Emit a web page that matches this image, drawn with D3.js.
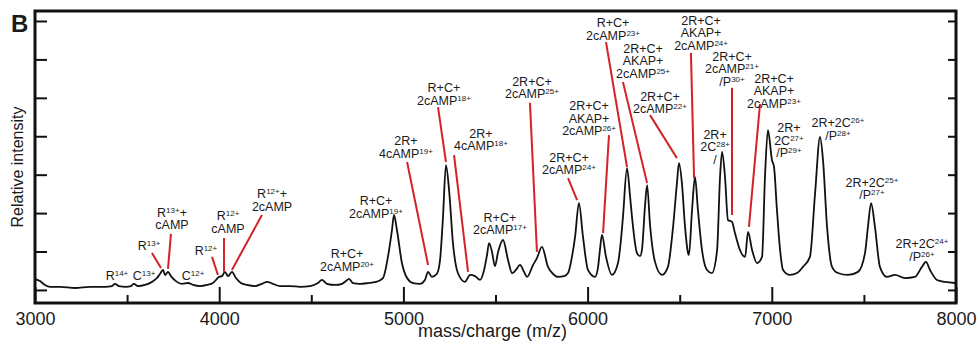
<!DOCTYPE html>
<html>
<head>
<meta charset="utf-8">
<script src="https://cdn.jsdelivr.net/npm/d3@7"></script>
<style>
  html, body { margin: 0; padding: 0; background: #fff; }
  svg { display: block; }
  text { font-family: "Liberation Sans", Arial, Helvetica, sans-serif; fill: #1a1a1a; }
</style>
</head>
<body>
<div id="chart"></div>
<script>
// trace: m/z and relative intensity (1 = one y tick)
const mz = [
  3000, 3027, 3054, 3081, 3136, 3217, 3299, 3380, 3418, 3434,
  3456, 3494, 3521, 3537, 3559, 3597, 3635, 3662, 3679, 3695,
  3706, 3722, 3738, 3765, 3798, 3831, 3858, 3896, 3934, 3966,
  3988, 3999, 4015, 4031, 4048, 4069, 4091, 4118, 4151, 4194,
  4232, 4260, 4292, 4330, 4384, 4439, 4493, 4536, 4558, 4585,
  4629, 4667, 4688, 4705, 4726, 4764, 4808, 4851, 4889, 4916,
  4938, 4949, 4965, 4992, 5020, 5052, 5090, 5117, 5134, 5155,
  5182, 5199, 5215, 5231, 5248, 5269, 5296, 5334, 5362, 5389,
  5416, 5438, 5454, 5465, 5481, 5497, 5514, 5541, 5568, 5590,
  5611, 5633, 5655, 5671, 5704, 5725, 5752, 5785, 5812, 5839,
  5872, 5894, 5915, 5932, 5953, 5975, 6002, 6040, 6056, 6067,
  6078, 6100, 6132, 6165, 6181, 6192, 6214, 6230, 6241, 6268,
  6285, 6295, 6312, 6323, 6339, 6366, 6404, 6436, 6464, 6485,
  6496, 6512, 6529, 6545, 6550, 6567, 6583, 6599, 6621, 6648,
  6675, 6703, 6719, 6730, 6746, 6762, 6784, 6800, 6827, 6855,
  6871, 6893, 6920, 6947, 6963, 6979, 7001, 7012, 7028, 7045,
  7061, 7099, 7137, 7169, 7207, 7235, 7262, 7278, 7300, 7327,
  7359, 7414, 7468, 7506, 7522, 7539, 7560, 7587, 7625, 7669,
  7723, 7777, 7815, 7837, 7859, 7897, 7940, 7995
];
const intensity = [
  0.29, 0.23, 0.13, 0.08, 0.08, 0.05, 0.08, 0.08, 0.10, 0.16,
  0.10, 0.08, 0.10, 0.16, 0.10, 0.13, 0.21, 0.31, 0.42, 0.52,
  0.39, 0.47, 0.36, 0.23, 0.16, 0.18, 0.13, 0.10, 0.13, 0.18,
  0.29, 0.34, 0.36, 0.47, 0.36, 0.47, 0.31, 0.18, 0.13, 0.10,
  0.16, 0.21, 0.16, 0.10, 0.10, 0.08, 0.10, 0.18, 0.26, 0.16,
  0.13, 0.16, 0.23, 0.29, 0.18, 0.16, 0.18, 0.21, 0.31, 0.86,
  1.56, 1.95, 1.56, 0.70, 0.31, 0.18, 0.16, 0.26, 0.47, 0.34,
  0.42, 0.78, 1.90, 3.25, 2.60, 1.22, 0.44, 0.21, 0.39, 0.36,
  0.26, 0.52, 0.91, 1.22, 0.99, 0.62, 0.99, 1.30, 0.78, 0.44,
  0.52, 0.65, 0.47, 0.34, 0.65, 0.83, 1.12, 0.60, 0.42, 0.34,
  0.36, 0.44, 0.86, 1.38, 2.26, 1.38, 0.52, 0.34, 0.57, 1.04,
  1.43, 0.86, 0.39, 0.70, 1.30, 1.90, 3.17, 2.47, 1.90, 0.96,
  0.88, 1.04, 2.21, 2.73, 1.69, 0.73, 0.39, 0.60, 1.64, 2.78,
  3.30, 2.78, 1.64, 0.96, 0.91, 2.08, 2.94, 2.08, 1.04, 0.52,
  0.44, 1.04, 2.94, 3.59, 2.94, 1.82, 1.77, 1.48, 1.04, 0.86,
  1.51, 1.04, 0.70, 0.86, 2.94, 4.16, 3.38, 3.20, 2.08, 1.04,
  0.52, 0.39, 0.44, 0.60, 0.86, 2.52, 3.98, 3.38, 1.64, 0.60,
  0.44, 0.39, 0.47, 0.96, 1.64, 2.26, 1.64, 0.60, 0.34, 0.39,
  0.31, 0.34, 0.60, 0.73, 0.52, 0.26, 0.21, 0.18
];

const xTickValues = [3000, 4000, 5000, 6000, 7000, 8000];
const xMinorValues = [3500, 4500, 5500, 6500, 7500];
const yTickValues = [0, 1, 2, 3, 4, 5, 6, 7];

// peak labels: text lines ({..} = superscript), label centre m/z, first baseline intensity,
// leader line [m/z, intensity, m/z, intensity] or null
const labels = [
  { lines: ["R{14+}"], mz: 3445, at: 0.26, lead: null },
  { lines: ["C{13+}"], mz: 3592, at: 0.26, lead: null },
  { lines: ["R{13+}"], mz: 3619, at: 1.04, lead: [3635, 0.96, 3684, 0.57] },
  { lines: ["R{13+}+", "cAMP"], mz: 3744, at: 1.90, lead: [3738, 1.46, 3722, 0.55] },
  { lines: ["C{12+}"], mz: 3858, at: 0.26, lead: null },
  { lines: ["R{12+}"], mz: 3928, at: 0.91, lead: [3961, 0.86, 3993, 0.39] },
  { lines: ["R{12+}", "cAMP"], mz: 4048, at: 1.82, lead: [4026, 1.35, 4026, 0.47] },
  { lines: ["R{12+}+", "2cAMP"], mz: 4287, at: 2.39, lead: [4232, 1.95, 4069, 0.52] },
  { lines: ["R+C+", "2cAMP{20+}"], mz: 4694, at: 0.83, lead: null },
  { lines: ["R+C+", "2cAMP{19+}"], mz: 4851, at: 2.21, lead: null },
  { lines: ["2R+", "4cAMP{19+}"], mz: 5014, at: 3.77, lead: [5020, 3.33, 5134, 0.65] },
  { lines: ["R+C+", "2cAMP{18+}"], mz: 5220, at: 5.15, lead: [5188, 4.76, 5231, 3.33] },
  { lines: ["2R+", "4cAMP{18+}"], mz: 5421, at: 3.96, lead: [5275, 3.51, 5351, 0.47] },
  { lines: ["R+C+", "2cAMP{17+}"], mz: 5524, at: 1.77, lead: null },
  { lines: ["2R+C+", "2cAMP{25+}"], mz: 5698, at: 5.31, lead: [5687, 4.87, 5725, 0.99] },
  { lines: ["2R+C+", "2cAMP{24+}"], mz: 5899, at: 3.33, lead: [5894, 2.91, 5943, 2.34] },
  { lines: ["2R+C+", "AKAP+", "2cAMP{26+}"], mz: 6008, at: 4.68, lead: [6116, 4.03, 6084, 1.48] },
  { lines: ["R+C+", "2cAMP{23+}"], mz: 6138, at: 6.84, lead: [6100, 6.45, 6214, 3.20] },
  { lines: ["2R+C+", "AKAP+", "2cAMP{25+}"], mz: 6301, at: 6.17, lead: [6192, 5.41, 6323, 2.78] },
  { lines: ["2R+C+", "2cAMP{22+}"], mz: 6393, at: 4.92, lead: [6339, 4.55, 6485, 3.43] },
  { lines: ["2R+C+", "AKAP+", "2cAMP{24+}"], mz: 6616, at: 6.90, lead: [6561, 6.17, 6578, 2.91] },
  { lines: ["2R+C+", "2cAMP{21+}", "/P{30+}"], mz: 6784, at: 5.96, lead: [6784, 5.26, 6784, 1.95] },
  { lines: ["2R+C+", "AKAP+", "2cAMP{23+}"], mz: 7012, at: 5.39, lead: [6936, 4.84, 6876, 1.64] },
  { lines: ["2R+", "2C{28+}", "/"], mz: 6692, at: 3.93, lead: null },
  { lines: ["2R+", "2C{27+}", "/P{29+}"], mz: 7093, at: 4.11, lead: null },
  { lines: ["2R+2C{26+}", "/P{28+}"], mz: 7359, at: 4.24, lead: null },
  { lines: ["2R+2C{25+}", "/P{27+}"], mz: 7544, at: 2.68, lead: null },
  { lines: ["2R+2C{24+}", "/P{26+}"], mz: 7815, at: 1.09, lead: null }
];

const width = 978, height = 345;
const margin = { top: 11, right: 22, bottom: 42, left: 35 };
const lineGap = 12.5;

const svg = d3.select('#chart').append('svg')
  .attr('width', width)
  .attr('height', height);

const x = d3.scaleLinear().domain([3000, 8000]).range([margin.left, width - margin.right]);
const y = d3.scaleLinear().domain([-0.34, 7.26]).range([height - margin.bottom, margin.top]);

const points = mz.map((m, i) => [m, intensity[i]]);

// spectrum trace
svg.append('path')
  .datum(points)
  .attr('fill', 'none')
  .attr('stroke', '#111')
  .attr('stroke-width', 1.8)
  .attr('stroke-linejoin', 'round')
  .attr('d', d3.line()
    .x(d => x(d[0]))
    .y(d => y(d[1]))
    .curve(d3.curveMonotoneX));

// red leader lines
svg.append('g')
  .selectAll('line')
  .data(labels.filter(d => d.lead))
  .enter()
  .append('line')
  .attr('x1', d => x(d.lead[0]))
  .attr('y1', d => y(d.lead[1]))
  .attr('x2', d => x(d.lead[2]))
  .attr('y2', d => y(d.lead[3]))
  .attr('stroke', '#d3222a')
  .attr('stroke-width', 2);

function writeLine(sel, str) {
  const parts = str.split(/(\{[^}]*\})/).filter(s => s.length);
  let shift = 0;
  parts.forEach(p => {
    const sup = p[0] === '{';
    const want = sup ? -4 : 0;
    sel.append('tspan')
      .attr('dy', want - shift)
      .attr('font-size', sup ? 8 : null)
      .text(sup ? p.slice(1, -1) : p);
    shift = want;
  });
}

const labelG = svg.append('g').attr('font-size', 12.5).attr('text-anchor', 'middle');
labels.forEach(d => {
  d.lines.forEach((ln, i) => {
    const t = labelG.append('text')
      .attr('x', x(d.mz))
      .attr('y', y(d.at) + i * lineGap);
    writeLine(t, ln);
  });
});

// axes: ticks point inward, frame drawn separately
const plotBottom = height - margin.bottom;
const plotRight = width - margin.right;

const xAxis = svg.append('g')
  .attr('transform', `translate(0,${plotBottom})`)
  .call(d3.axisBottom(x).tickValues(xTickValues).tickSize(-16).tickPadding(9).tickFormat(d3.format('d')));
xAxis.select('.domain').remove();
xAxis.selectAll('line').attr('stroke', '#111').attr('stroke-width', 2);
xAxis.selectAll('text').style('font-size', '18px').attr('fill', '#1a1a1a');

const xMinor = svg.append('g')
  .attr('transform', `translate(0,${plotBottom})`)
  .call(d3.axisBottom(x).tickValues(xMinorValues).tickSize(-8).tickFormat(''));
xMinor.select('.domain').remove();
xMinor.selectAll('line').attr('stroke', '#111').attr('stroke-width', 2);

const yLeft = svg.append('g')
  .attr('transform', `translate(${margin.left},0)`)
  .call(d3.axisLeft(y).tickValues(yTickValues).tickSize(-12).tickFormat(''));
yLeft.select('.domain').remove();
yLeft.selectAll('line').attr('stroke', '#111').attr('stroke-width', 2);

const yRight = svg.append('g')
  .attr('transform', `translate(${plotRight},0)`)
  .call(d3.axisRight(y).tickValues(yTickValues).tickSize(-8).tickFormat(''));
yRight.select('.domain').remove();
yRight.selectAll('line').attr('stroke', '#111').attr('stroke-width', 2);

svg.append('rect')
  .attr('x', margin.left)
  .attr('y', margin.top)
  .attr('width', plotRight - margin.left)
  .attr('height', plotBottom - margin.top)
  .attr('fill', 'none')
  .attr('stroke', '#111')
  .attr('stroke-width', 3);

// titles
svg.append('text')
  .attr('x', (x(3000) + x(8000)) / 2 - 3)
  .attr('y', 337)
  .attr('text-anchor', 'middle')
  .style('font-size', '18px')
  .text('mass/charge (m/z)');

svg.append('text')
  .attr('transform', `translate(23,${(margin.top + plotBottom) / 2 + 10}) rotate(-90)`)
  .attr('text-anchor', 'middle')
  .style('font-size', '16px')
  .text('Relative intensity');

svg.append('text')
  .attr('x', 11)
  .attr('y', 32)
  .style('font-size', '24px')
  .style('font-weight', 'bold')
  .text('B');
</script>
</body>
</html>
